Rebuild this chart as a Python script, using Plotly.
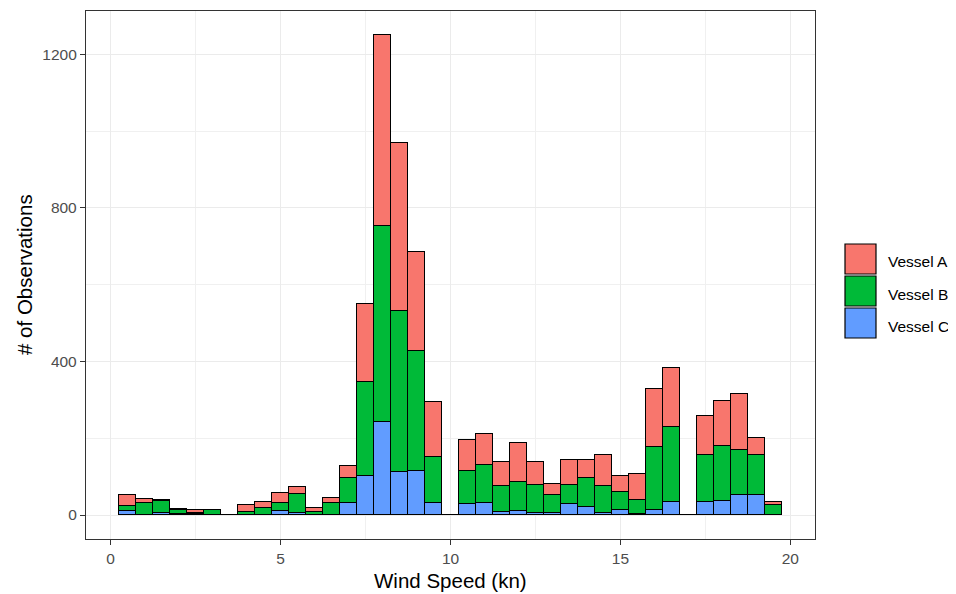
import plotly.graph_objects as go

# Bin centers (wind speed, kn), bin width 0.5
wind_speed = [0.5, 1.0, 1.5, 2.0, 2.5, 3.0, 3.5, 4.0, 4.5, 5.0,
              5.5, 6.0, 6.5, 7.0, 7.5, 8.0, 8.5, 9.0, 9.5, 10.0,
              10.5, 11.0, 11.5, 12.0, 12.5, 13.0, 13.5, 14.0, 14.5, 15.0,
              15.5, 16.0, 16.5, 17.0, 17.5, 18.0, 18.5, 19.0, 19.5]

vessel_a = [28, 11, 3, 3, 6, 0, 0, 18, 14, 26,
            19, 11, 13, 32, 203, 498, 440, 258, 143, 0,
            81, 80, 62, 103, 58, 27, 63, 47, 80, 40,
            70, 151, 155, 0, 102, 116, 144, 45, 10]
vessel_b = [13, 30, 30, 11, 4, 12, 0, 8, 19, 22,
            49, 8, 30, 64, 246, 509, 419, 311, 119, 0,
            86, 98, 68, 74, 73, 47, 51, 76, 69, 47,
            35, 165, 195, 0, 122, 145, 119, 104, 25]
vessel_c = [10, 0, 6, 2, 2, 0, 0, 0, 0, 10,
            5, 0, 0, 32, 101, 243, 111, 115, 32, 0,
            29, 32, 7, 11, 6, 6, 28, 21, 6, 14,
            3, 13, 33, 0, 33, 36, 51, 51, 0]

series_names = ["Vessel A", "Vessel B", "Vessel C"]
series_colors = ["#F8766D", "#00BA38", "#619CFF"]
series_values = [vessel_a, vessel_b, vessel_c]

x_ticks = [0, 5, 10, 15, 20]
y_ticks = [0, 400, 800, 1200]

FONT = "Liberation Sans, Arial, sans-serif"

fig = go.Figure()
# stack bottom to top: C, B, A
for name, color, vals in reversed(list(zip(series_names, series_colors, series_values))):
    fig.add_trace(go.Bar(
        x=wind_speed, y=vals, name=name, width=0.5,
        marker=dict(color=color, line=dict(color="black", width=1.2)),
        showlegend=False,
    ))

total_max = max(a + b + c for a, b, c in zip(vessel_a, vessel_b, vessel_c))
xmin, xmax = wind_speed[0] - 0.25, wind_speed[-1] + 0.25
xpad = 0.05 * (xmax - xmin)

axis_common = dict(
    showline=True, mirror=True, linecolor="#333333", linewidth=1.3,
    ticks="outside", ticklen=5, tickwidth=1.2, tickcolor="#333333",
    tickfont=dict(family=FONT, size=15.5, color="#4D4D4D"),
    showgrid=True, gridcolor="#EBEBEB", gridwidth=1.3, zeroline=False,
)

# page has an 8px body margin; figure sized to fit inside the window
fig.update_layout(
    barmode="stack", bargap=0,
    width=948, height=586,
    margin=dict(l=78, r=141, t=3, b=55),
    plot_bgcolor="white", paper_bgcolor="white",
    font=dict(family=FONT),
    xaxis=dict(range=[xmin - xpad, xmax + xpad], tickvals=x_ticks,
               minor=dict(dtick=2.5, tick0=0, showgrid=True, gridcolor="#F0F0F0",
                          gridwidth=0.8, ticks=""),
               **axis_common),
    yaxis=dict(range=[-0.05 * total_max, 1.05 * total_max], tickvals=y_ticks,
               minor=dict(dtick=200, tick0=0, showgrid=True, gridcolor="#F0F0F0",
                          gridwidth=0.8, ticks=""),
               **axis_common),
)

# helpers: page pixel -> paper coords (panel spans 86..815 x, 11..539 y on the page)
pw, ph = 729.0, 528.0
def px_x(p):
    return (p - 86) / pw
def px_y(p):
    return (539 - p) / ph

# axis titles
fig.add_annotation(text="Wind Speed (kn)", xref="paper", yref="paper",
                   x=0.5, y=px_y(580), xanchor="center", yanchor="middle",
                   showarrow=False, font=dict(family=FONT, size=20.5, color="black"))
fig.add_annotation(text="# of Observations", xref="paper", yref="paper",
                   x=px_x(24), y=0.5, xanchor="center", yanchor="middle", textangle=-90,
                   showarrow=False, font=dict(family=FONT, size=20.5, color="black"))

# custom legend (large ggplot-style keys)
key_tops = [244, 276, 308]
for name, color, top in zip(series_names, series_colors, key_tops):
    fig.add_shape(type="rect", xref="paper", yref="paper",
                  x0=px_x(845), x1=px_x(876), y0=px_y(top + 30), y1=px_y(top),
                  fillcolor=color, line=dict(color="black", width=1.2))
    fig.add_annotation(text=name, xref="paper", yref="paper",
                       x=px_x(886), y=px_y(top + 18), xanchor="left", yanchor="middle",
                       showarrow=False, font=dict(family=FONT, size=15.5, color="black"))

fig.write_html("out.html")
